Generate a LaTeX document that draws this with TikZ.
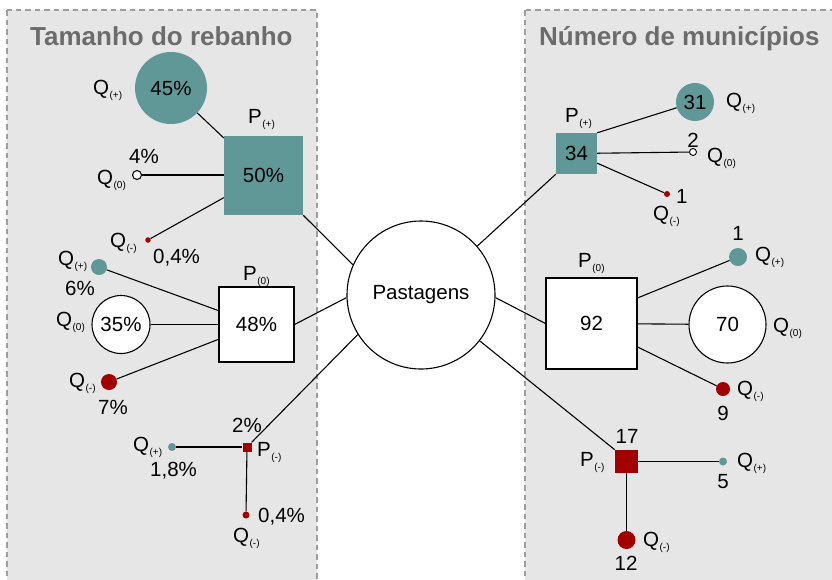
\documentclass[tikz,border=0pt]{standalone}
\usepackage{fontspec}
\setmainfont{Liberation Sans}
\definecolor{tealc}{RGB}{96,152,152}
\definecolor{redc}{RGB}{162,0,0}
\definecolor{panelbg}{RGB}{230,230,230}
\definecolor{panelrule}{RGB}{158,158,158}
\definecolor{titlegray}{RGB}{108,108,108}
\newcommand\lblsize{\fontsize{20.5}{24}\selectfont}
\newcommand\sub[1]{\hspace{0.5pt}\raisebox{-4pt}{\fontsize{10}{11}\selectfont #1}}
\tikzset{
  panel/.style={fill=panelbg, draw=panelrule, line width=2.7pt, dash pattern=on 5.5pt off 4pt},
  paneltitle/.style={anchor=base west, inner sep=0pt, text=titlegray, font=\fontsize{26}{30}\selectfont\bfseries},
  conn/.style={line width=1.1pt, black},
  hub/.style={circle, draw, line width=1.1pt, fill=white, minimum size=148pt, inner sep=0pt, font=\lblsize},
  sqbox/.style={rectangle, inner sep=0pt, font=\lblsize},
  dotnode/.style={circle, inner sep=0pt, font=\lblsize},
  tealshape/.style={fill=tealc, draw=none},
  redshape/.style={fill=redc, draw=none},
  whiteshape/.style={fill=white, draw=black, line width=1.1pt},
  lbl/.style={anchor=base west, inner sep=0pt, font=\lblsize},
  num/.style={anchor=base, inner sep=0pt, font=\lblsize},
}
\begin{document}
\begin{tikzpicture}[x=1pt, y=-1pt]
\useasboundingbox (0,0) rectangle (832,579);
\clip (0,0) rectangle (832,579);

% two shaded panels
\draw[panel] (7,10) rectangle (317,600);
\draw[panel] (525,10) rectangle (850,600);
\node[paneltitle] (tleft) at (30,45) {Tamanho do rebanho};
\node[paneltitle] (tright) at (539,45) {Número de municípios};

% central node
\node[hub] (past) at (421,295) {Pastagens};

% ---- left panel: herd size ----
\node[sqbox, tealshape, minimum size=79pt] (lpp) at (263.5,175.5) {50\%};
\node[dotnode, tealshape, minimum size=72pt] (lq1) at (171,88) {45\%};
\node[dotnode, whiteshape, minimum size=9pt] (lq2) at (137,175) {};
\node[dotnode, redshape, minimum size=5.5pt] (lq3) at (148,240) {};

\node[sqbox, whiteshape, minimum size=75pt] (lpz) at (256.5,324.5) {48\%};
\node[dotnode, tealshape, minimum size=16pt] (lz1) at (99,267) {};
\node[dotnode, whiteshape, minimum size=58pt] (lz2) at (121,324.5) {35\%};
\node[dotnode, redshape, minimum size=16pt] (lz3) at (109,382) {};

\node[sqbox, redshape, minimum size=9pt] (lpm) at (247,447) {};
\node[dotnode, tealshape, minimum size=8pt] (lm1) at (172,447) {};
\node[dotnode, redshape, minimum size=7pt] (lm2) at (246,515) {};

\draw[conn] (past.156) -- (lpp.south east);
\draw[conn] (past.182) -- (lpz.east);
\draw[conn] (past.212) -- (lpm.north east);
\draw[conn] (lq1) -- (lpp);
\draw[conn] (lq2) -- (lq2 -| lpp.west);
\draw[conn] (lq3) -- (lpp);
\draw[conn] (lz1) -- (lpz);
\draw[conn] (lz2) -- (lpz);
\draw[conn] (lz3) -- (lpz);
\draw[conn] (lm1) -- (lpm);
\draw[conn] (lm2) -- (lpm);

\node[lbl] (llq1) at (93,94) {Q\sub{(+)}};
\node[lbl] (llpp) at (248,123) {P\sub{(+)}};
\node[num] (lv2) at (144,163) {4\%};
\node[lbl] (llq2) at (97,184) {Q\sub{(0)}};
\node[lbl] (llq3) at (110,247) {Q\sub{(-)}};
\node[lbl] (lv3) at (153,263) {0,4\%};

\node[lbl] (llz1) at (58,265) {Q\sub{(+)}};
\node[lbl] (lw1) at (65,295) {6\%};
\node[lbl] (llpz) at (243,280) {P\sub{(0)}};
\node[lbl] (llz2) at (56,326) {Q\sub{(0)}};
\node[lbl] (llz3) at (69,387) {Q\sub{(-)}};
\node[lbl] (lw3) at (98,414) {7\%};

\node[lbl] (lu0) at (232,432) {2\%};
\node[lbl] (llpm) at (257,456) {P\sub{(-)}};
\node[lbl] (llm1) at (133,451) {Q\sub{(+)}};
\node[lbl] (lu1) at (150,476) {1,8\%};
\node[lbl] (lu2) at (258,522) {0,4\%};
\node[lbl] (llm2) at (233,542) {Q\sub{(-)}};

% ---- right panel: number of municipalities ----
\node[sqbox, tealshape, minimum size=41pt] (rpp) at (576.5,153.5) {34};
\node[dotnode, tealshape, minimum size=38pt] (rp1) at (695,102) {31};
\node[dotnode, whiteshape, minimum size=7pt, line width=0.9pt] (rp2) at (693,152) {};
\node[dotnode, redshape, minimum size=6pt] (rp3) at (667,194) {};

\node[sqbox, whiteshape, minimum size=91pt] (rpz) at (591.5,323.5) {92};
\node[dotnode, tealshape, minimum size=18pt] (rz1) at (738,257) {};
\node[dotnode, whiteshape, minimum size=77pt] (rz2) at (727.5,324.5) {70};
\node[dotnode, redshape, minimum size=14pt] (rz3) at (723,389) {};

\node[sqbox, redshape, minimum size=23pt] (rpm) at (626.5,461.5) {};
\node[dotnode, tealshape, minimum size=8pt] (rm1) at (723,461.5) {};
\node[dotnode, redshape, minimum size=18pt] (rm2) at (626.5,540) {};

\draw[conn] (past.41) -- (rpp.south west);
\draw[conn] (past.-2) -- (rpz.west);
\draw[conn] (past.-38) -- (rpm.north west);
\draw[conn] (rpp.north east) -- (rp1);
\draw[conn] (rpp) -- (rp2);
\draw[conn] (rpp.-25) -- (rp3);
\draw[conn] (rpz.29) -- (rz1);
\draw[conn] (rpz) -- (rz2);
\draw[conn] (rpz.-27) -- (rz3);
\draw[conn] (rpm) -- (rm1);
\draw[conn] (rpm) -- (rm2);

\node[lbl] (lrp1) at (726,107) {Q\sub{(+)}};
\node[lbl] (lrpp) at (565,122) {P\sub{(+)}};
\node[num] (rv2) at (693,147) {2};
\node[lbl] (lrp2) at (707,162) {Q\sub{(0)}};
\node[lbl] (rv3) at (676,203) {1};
\node[lbl] (lrp3) at (653,220) {Q\sub{(-)}};

\node[num] (rw1) at (738,240) {1};
\node[lbl] (lrz1) at (755,261) {Q\sub{(+)}};
\node[lbl] (lrpz) at (578,267) {P\sub{(0)}};
\node[lbl] (lrz2) at (773,332) {Q\sub{(0)}};
\node[lbl] (lrz3) at (737,395) {Q\sub{(-)}};
\node[num] (rw3) at (723,420) {9};

\node[num] (ru0) at (627,443) {17};
\node[lbl] (lrpm) at (580,466) {P\sub{(-)}};
\node[lbl] (lrm1) at (737,467) {Q\sub{(+)}};
\node[num] (ru1) at (723,488) {5};
\node[lbl] (lrm2) at (643,546) {Q\sub{(-)}};
\node[num] (ru2) at (626,570) {12};
\end{tikzpicture}
\end{document}
